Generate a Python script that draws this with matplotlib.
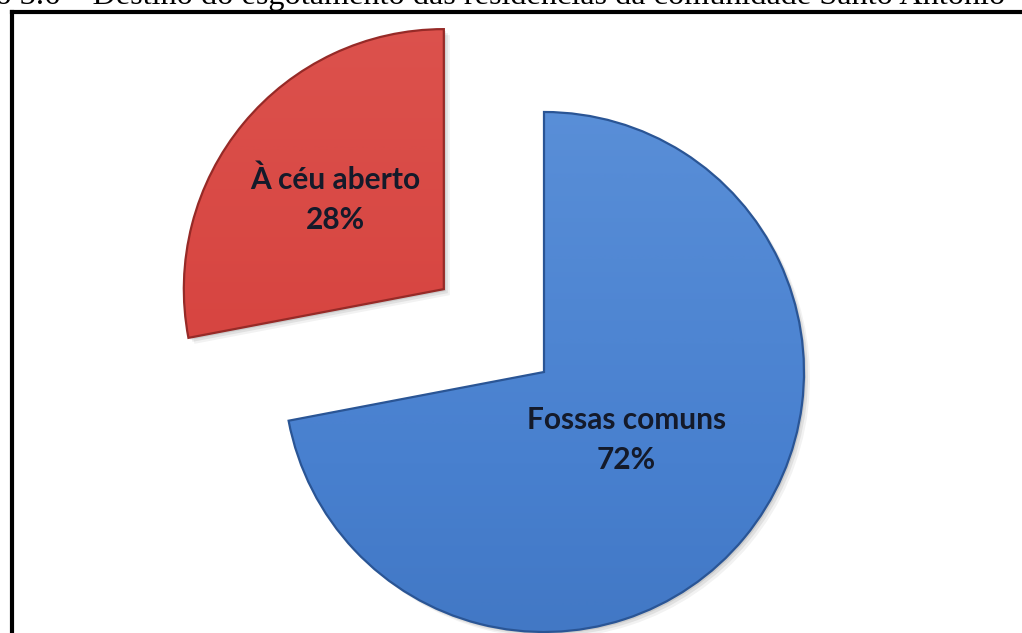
import numpy as np
import matplotlib
matplotlib.use("Agg")
import matplotlib.pyplot as plt
from matplotlib.patches import Wedge
from matplotlib.lines import Line2D
from matplotlib.colors import LinearSegmentedColormap

# ---- data ----
categories = ["Fossas comuns", "À céu aberto"]
values = [72, 28]
title_text = "Gráfico 3.6 – Destino do esgotamento das residências da comunidade Santo Antônio"

# ---- style ----
colors = ["#4880cf", "#d6433f"]
light = ["#6a9de0", "#e2605a"]
dark = ["#2f5fa6", "#a9302d"]
edge = ["#2a5595", "#962a27"]
explode_frac = [0, 0.5]
label_frac = [0.41, 0.54]

W, H = 1022, 633
fig = plt.figure(figsize=(W / 100, H / 100), dpi=100)
fig.patch.set_facecolor("white")
ax = fig.add_axes([0, 0, 1, 1])

cx, cy, R = 544, H - 372, 260

wedges, _ = ax.pie(values, startangle=90, counterclock=False,
                   explode=[e * R for e in explode_frac],
                   center=(cx, cy), radius=R, colors=colors,
                   wedgeprops=dict(linewidth=0), frame=True)
ax.set_xlim(0, W)
ax.set_ylim(0, H)
ax.set_aspect("equal")
ax.axis("off")

for i, w in enumerate(wedges):
    x0, y0 = w.center
    # soft shadow
    for off, a in [(6, 0.05), (4, 0.07), (2, 0.09)]:
        sh = Wedge((x0 + off, y0 - off), w.r, w.theta1, w.theta2,
                   facecolor="#000000", alpha=a, linewidth=0, zorder=0)
        ax.add_patch(sh)
    w.set_zorder(1)
    # gradient fill clipped to wedge
    cmap = LinearSegmentedColormap.from_list("g%d" % i, [dark[i], colors[i], light[i]])
    grad = np.linspace(0, 1, 256).reshape(-1, 1)
    grad = 0.38 + 0.37 * grad
    im = ax.imshow(grad, cmap=cmap, vmin=0, vmax=1, origin="lower",
                   extent=[x0 - R, x0 + R, y0 - R, y0 + R], zorder=2,
                   interpolation="bilinear", aspect="auto")
    im.set_clip_path(w)
    # darker bevel edge
    ed = Wedge(w.center, w.r, w.theta1, w.theta2, facecolor="none",
               edgecolor=edge[i], linewidth=1.6, zorder=3)
    ax.add_patch(ed)
    # label
    mid = np.deg2rad((w.theta1 + w.theta2) / 2)
    lx = x0 + label_frac[i] * R * np.cos(mid)
    ly = y0 + label_frac[i] * R * np.sin(mid)
    ax.text(lx, ly, f"{categories[i]}\n{values[i]}%", ha="center", va="center",
            fontsize=21.5, fontweight="bold", family="Lato", color="#141a2a",
            linespacing=1.55, zorder=5)

ax.set_xlim(0, W)
ax.set_ylim(0, H)

# title (clipped at top of image)
fig.text(1005 / W, 1 - 4 / H, title_text, ha="right", va="baseline",
         fontsize=23.2, family="Liberation Serif", color="black")

# frame lines (left and top)
fig.add_artist(Line2D([11.5 / W, 11.5 / W], [0, 1 - 12 / H], color="black",
                      linewidth=3, transform=fig.transFigure, solid_capstyle="projecting"))
fig.add_artist(Line2D([11.5 / W, 1], [1 - 12 / H, 1 - 12 / H], color="black",
                      linewidth=3, transform=fig.transFigure, solid_capstyle="projecting"))

fig.savefig("out.png", dpi=100, facecolor="white")
